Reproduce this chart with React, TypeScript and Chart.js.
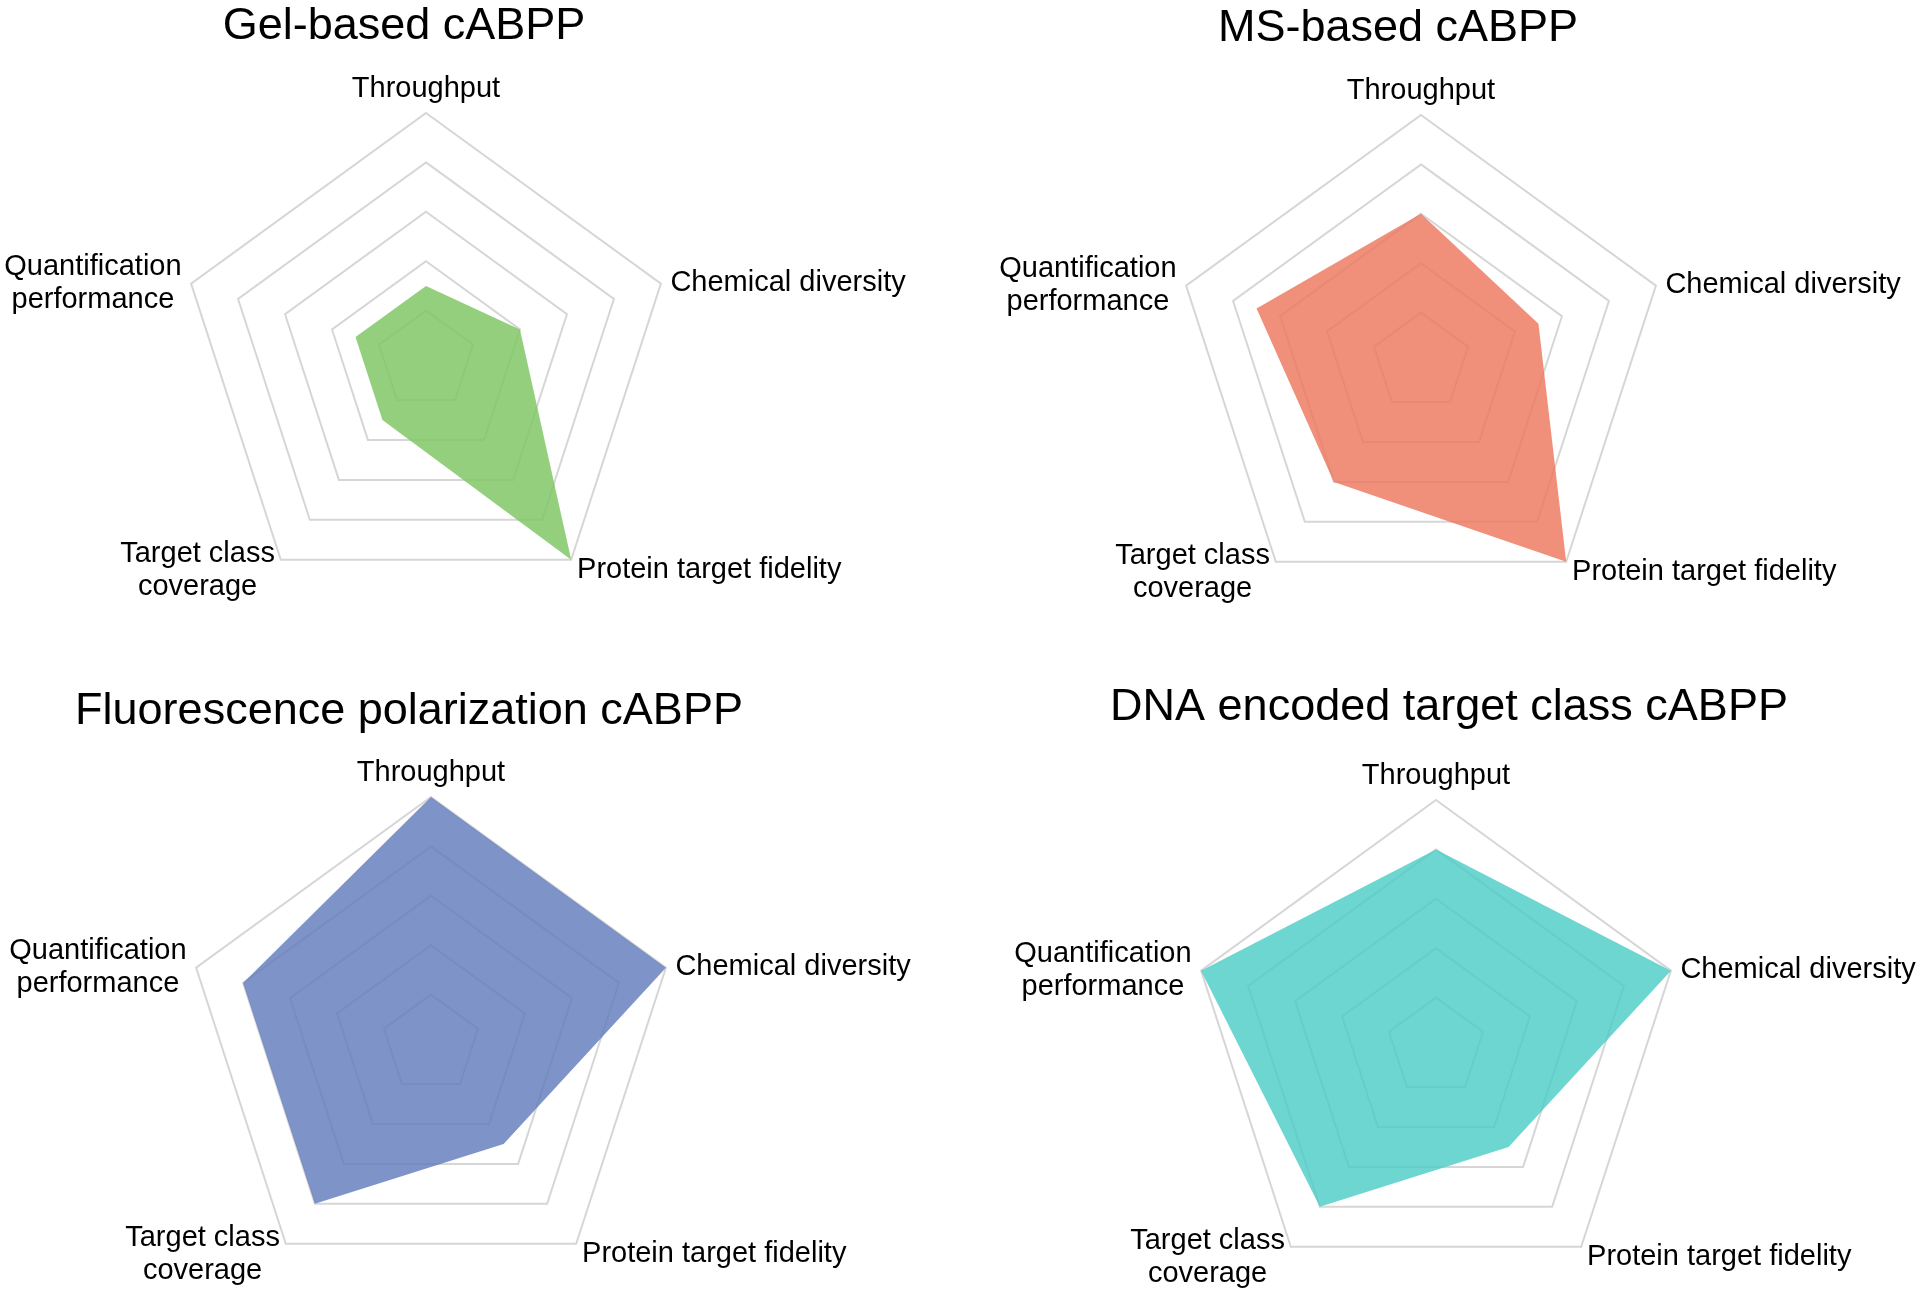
import React, { useEffect, useRef } from "react";
import { Chart, registerables } from "chart.js";

Chart.register(...registerables);

// ---- data ----
const categories = [
  "Throughput",
  "Chemical diversity",
  "Protein target fidelity",
  "Target class coverage",
  "Quantification performance",
];
const categoryLines = [
  ["Throughput"],
  ["Chemical diversity"],
  ["Protein target fidelity"],
  ["Target class", "coverage"],
  ["Quantification", "performance"],
];
const scaleMin = 0;
const scaleMax = 5;
const scaleStep = 1;

const gelTitle = "Gel-based cABPP";
const gelValues = [1.5, 2, 5, 1.5, 1.5];

const msTitle = "MS-based cABPP";
const msValues = [3, 2.5, 5, 3, 3.5];

const fpTitle = "Fluorescence polarization cABPP";
const fpValues = [5, 5, 2.5, 4, 4];

const dnaTitle = "DNA encoded target class cABPP";
const dnaValues = [4, 5, 2.5, 4, 5];

// ---- layout / style ----
const W = 1920;
const H = 1295;
const R = 247;
const FONT = '"Liberation Sans", Arial, Helvetica, sans-serif';

type Panel = {
  title: string;
  values: number[];
  color: string;
  cx: number;
  cy: number;
  titleX: number;
  titleY: number;
};

const panels: Panel[] = [
  { title: gelTitle, values: gelValues, color: "rgba(128,199,102,0.85)", cx: 426, cy: 360, titleX: 404, titleY: 39 },
  { title: msTitle, values: msValues, color: "rgba(238,120,93,0.82)", cx: 1421, cy: 362, titleX: 1398, titleY: 41 },
  { title: fpTitle, values: fpValues, color: "rgba(98,124,188,0.82)", cx: 431, cy: 1044, titleX: 409, titleY: 724 },
  { title: dnaTitle, values: dnaValues, color: "rgba(72,204,198,0.8)", cx: 1436, cy: 1047, titleX: 1449, titleY: 720 },
];

const textPlugin = {
  id: "panelText",
  afterDraw(chart: any, _args: any, opts: any) {
    const ctx = chart.ctx as CanvasRenderingContext2D;
    const scale = chart.scales.r;
    ctx.save();
    ctx.fillStyle = "#000";
    ctx.font = `45px ${FONT}`;
    ctx.textAlign = "center";
    ctx.textBaseline = "alphabetic";
    ctx.fillText(opts.title, opts.titleX, opts.titleY);

    ctx.font = `29px ${FONT}`;
    ctx.textBaseline = "middle";
    ctx.textAlign = "center";
    categoryLines.forEach((lines, i) => {
      const isTop = i === 0;
      const p = scale.getPointPosition(i, scale.drawingArea + (isTop ? 27 : 10));
      const n = lines.length;
      const w = Math.max(...lines.map((l) => ctx.measureText(l).width));
      let x = p.x;
      if (!isTop) {
        x = p.x > scale.xCenter ? p.x + w / 2 : p.x - w / 2;
      }
      lines.forEach((line, k) => {
        ctx.fillText(line, x, p.y + 2.5 + (k - (n - 1) / 2) * 33);
      });
    });
    ctx.restore();
  },
};

function RadarPanel({ panel }: { panel: Panel }) {
  const ref = useRef<HTMLCanvasElement | null>(null);
  useEffect(() => {
    if (!ref.current) return;
    const chart = new Chart(ref.current, {
      type: "radar",
      data: {
        labels: categories,
        datasets: [
          {
            data: panel.values,
            backgroundColor: panel.color,
            borderColor: "transparent",
            borderWidth: 0,
            pointRadius: 0,
            pointHoverRadius: 0,
            fill: "start",
          },
        ],
      },
      options: {
        responsive: false,
        animation: false,
        events: [],
        layout: {
          padding: {
            left: panel.cx - R,
            right: W - panel.cx - R,
            top: panel.cy - R,
            bottom: H - panel.cy - R,
          },
        },
        scales: {
          r: {
            min: scaleMin,
            max: scaleMax,
            ticks: { display: false, stepSize: scaleStep },
            grid: { color: "#d6d6d6", lineWidth: 2 },
            angleLines: { display: false },
            pointLabels: { display: false },
          },
        },
        plugins: {
          legend: { display: false },
          tooltip: { enabled: false },
          panelText: { title: panel.title, titleX: panel.titleX, titleY: panel.titleY },
        } as any,
      },
      plugins: [textPlugin as any],
    });
    return () => chart.destroy();
  }, [panel]);
  return (
    <canvas
      ref={ref}
      width={W}
      height={H}
      style={{ position: "absolute", left: 0, top: 0, width: W, height: H }}
    />
  );
}

export default function App() {
  return (
    <div
      style={{
        position: "absolute",
        left: 0,
        top: 0,
        width: W,
        height: H,
        background: "#fff",
        overflow: "hidden",
      }}
    >
      {panels.map((p) => (
        <RadarPanel key={p.title} panel={p} />
      ))}
    </div>
  );
}
